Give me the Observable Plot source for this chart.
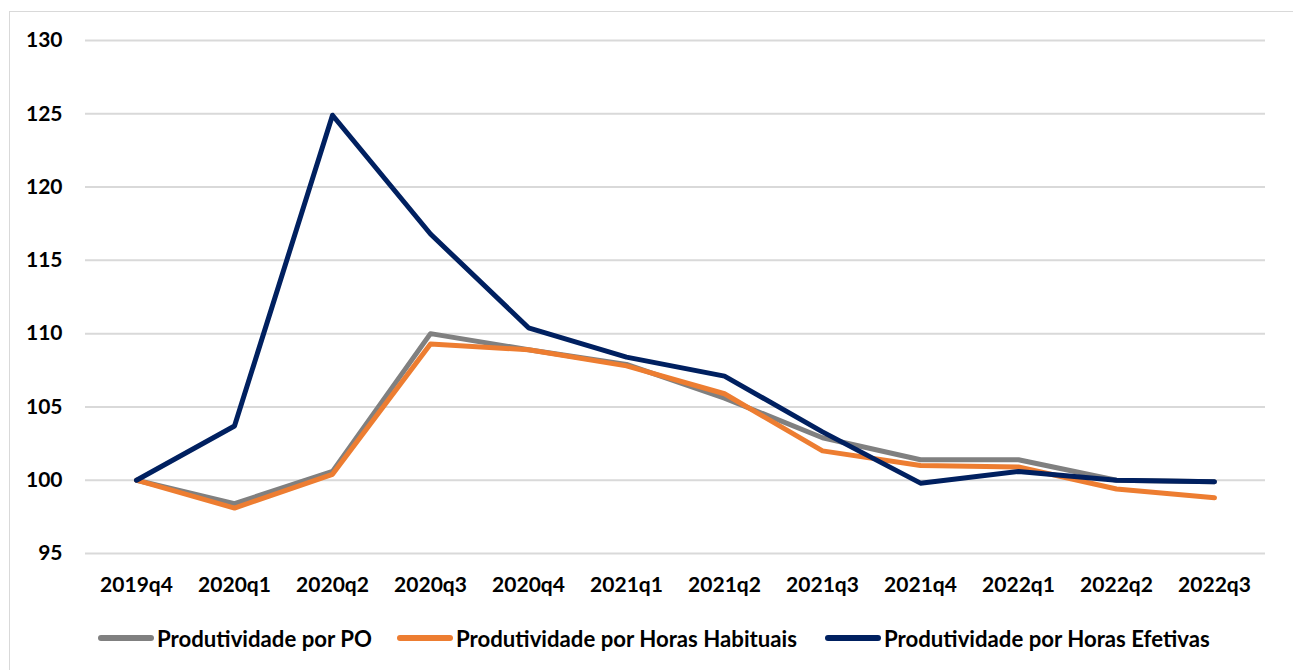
<!DOCTYPE html>
<html>
<head>
<meta charset="utf-8">
<script src="https://cdn.jsdelivr.net/npm/d3@7"></script>
<script src="https://cdn.jsdelivr.net/npm/@observablehq/plot@0.6"></script>
<style>
  html, body { margin: 0; padding: 0; background: #fff; }
  body { width: 1293px; height: 670px; position: relative; overflow: hidden; font-family: Lato, "Open Sans", sans-serif; }
  #frame { position: absolute; left: 9px; top: 11px; width: 1400px; height: 800px; border: 1px solid #d9d9d9; box-sizing: border-box; }
  #chart { position: absolute; left: 0; top: 0; }
  .leg { position: absolute; top: 624px; height: 28px; display: flex; align-items: center; font-weight: 700; font-size: 22.2px; color: #000; white-space: nowrap; }
  .leg .sw { width: 56px; height: 6px; border-radius: 3px; margin-right: 3px; }
</style>
</head>
<body>
<div id="frame"></div>
<div id="chart"></div>
<div id="legend"></div>
<script>
const quarters = ["2019q4","2020q1","2020q2","2020q3","2020q4","2021q1","2021q2","2021q3","2021q4","2022q1","2022q2","2022q3"];
const seriesNames = ["Produtividade por PO","Produtividade por Horas Habituais","Produtividade por Horas Efetivas"];
const seriesColors = ["#808080","#ED7D31","#002060"];
const po        = [100, 98.4, 100.6, 110.0, 108.9, 107.9, 105.6, 102.9, 101.4, 101.4, 100.0, 99.9];
const habituais = [100, 98.1, 100.4, 109.3, 108.9, 107.8, 105.9, 102.0, 101.0, 100.9, 99.4, 98.8];
const efetivas  = [100, 103.7, 124.9, 116.8, 110.4, 108.4, 107.1, 103.3, 99.8, 100.6, 100.0, 99.9];
const yTicks = [95, 100, 105, 110, 115, 120, 125, 130];

const allSeries = [po, habituais, efetivas];
const data = [];
allSeries.forEach((vals, si) => {
  vals.forEach((v, i) => data.push({quarter: quarters[i], value: v, series: seriesNames[si]}));
});

const chart = Plot.plot({
  width: 1293,
  height: 600,
  marginTop: 40,
  marginBottom: 47,
  marginLeft: 85,
  marginRight: 28,
  style: {fontFamily: "Lato, 'Open Sans', sans-serif", fontSize: "21px", fontWeight: "700", color: "#000", background: "transparent"},
  x: {type: "point", domain: quarters, padding: 0.5, label: null},
  y: {domain: [95, 130], label: null},
  color: {domain: seriesNames, range: seriesColors},
  marks: [
    Plot.ruleY(yTicks, {stroke: "#d9d9d9", strokeWidth: 2}),
    Plot.axisY({ticks: yTicks, tickSize: 0, tickPadding: 23, tickFormat: d => d, label: null}),
    Plot.axisX({tickSize: 0, tickPadding: 24, label: null}),
    Plot.line(data, {x: "quarter", y: "value", z: "series", stroke: "series", strokeWidth: 5, strokeLinejoin: "round", strokeLinecap: "round"})
  ]
});
document.getElementById("chart").appendChild(chart);

const legendLefts = [98, 397, 825];
const legend = document.getElementById("legend");
seriesNames.forEach((name, i) => {
  const item = document.createElement("div");
  item.className = "leg";
  item.style.left = legendLefts[i] + "px";
  const sw = document.createElement("span");
  sw.className = "sw";
  sw.style.background = seriesColors[i];
  const t = document.createElement("span");
  t.textContent = name;
  item.appendChild(sw);
  item.appendChild(t);
  legend.appendChild(item);
});
</script>
</body>
</html>
